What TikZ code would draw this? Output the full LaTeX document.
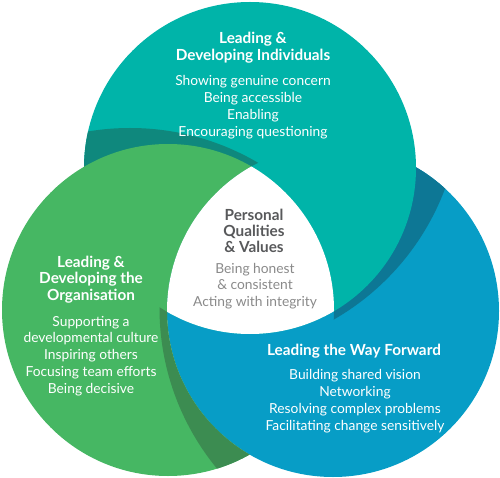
\documentclass[tikz,border=0pt]{standalone}
\usepackage{fontspec}
\setmainfont{Lato}
\definecolor{cteal}{HTML}{00B4A9}
\definecolor{dteal}{HTML}{0F887D}
\definecolor{cgreen}{HTML}{46B763}
\definecolor{dgreen}{HTML}{3C8C51}
\definecolor{cblue}{HTML}{079DC6}
\definecolor{dblue}{HTML}{0D7795}
\definecolor{cgrayd}{HTML}{58595B}
\definecolor{cgrayl}{HTML}{8A8A8A}
\tikzset{
  ttl/.style={font=\bfseries\fontsize{15.3}{17}\selectfont, align=center, inner sep=0pt, anchor=base, text=white},
  txt/.style={font=\fontsize{13.8}{17}\selectfont, align=center, inner sep=0pt, anchor=base, text=white},
}
\begin{document}
\begin{tikzpicture}[x=1pt,y=-1pt]
\useasboundingbox (0,0) rectangle (500,478);
\coordinate (cT) at (250,168);
\coordinate (cG) at (168,310);
\coordinate (cB) at (333,311);
\coordinate (sG) at (130,381);
\coordinate (sT) at (208,100);
\coordinate (sB) at (412.5,308);
\def\R{166}
\def\Rs{253}
% blue circle and its shadow band (cast by teal)
\fill[cblue] (cB) circle[radius=\R];
\begin{scope}
  \clip (cB) circle[radius=\R];
  \clip (-20,-20) -- (520,-20) -- (520,500) -- (-20,500) -- cycle
        (334,310) arc[start angle=0, end angle=-360, radius=\R] -- cycle;
  \fill[dblue] (sT) circle[radius=\Rs];
\end{scope}
% teal circle and its shadow band (cast by green)
\fill[cteal] (cT) circle[radius=\R];
\begin{scope}
  \clip (cT) circle[radius=\R];
  \clip (-20,-20) -- (520,-20) -- (520,500) -- (-20,500) -- cycle
        (499,311) arc[start angle=0, end angle=-360, radius=\R] -- cycle;
  \fill[dteal] (sG) circle[radius=\Rs];
\end{scope}
% green circle (outside blue) and its shadow band (cast by blue)
\begin{scope}
  \clip (-20,-20) -- (520,-20) -- (520,500) -- (-20,500) -- cycle
        (499,311) arc[start angle=0, end angle=-360, radius=\R] -- cycle;
  \fill[cgreen] (cG) circle[radius=\R];
  \clip (cG) circle[radius=\R];
  \clip (-20,-20) -- (520,-20) -- (520,500) -- (-20,500) -- cycle
        (416,168) arc[start angle=0, end angle=-360, radius=\R] -- cycle;
  \fill[dgreen] (sB) circle[radius=\Rs];
\end{scope}
% common centre
\begin{scope}
  \clip (cT) circle[radius=\R];
  \clip (cG) circle[radius=\R];
  \fill[white] (cB) circle[radius=\R];
\end{scope}

\node[ttl] (t1) at (253,61) {Leading \&\\Developing Individuals};
\node[txt] (b1) at (253,137) {Showing genuine concern\\Being accessible\\Enabling\\Encouraging questioning};
\node[ttl,text=cgrayd,font=\bfseries\fontsize{15.3}{16}\selectfont] (t0) at (254,252) {Personal\\Qualities\\\& Values};
\node[txt,text=cgrayl,font=\fontsize{13.8}{16.5}\selectfont] (b0) at (255,306) {Being honest\\\& consistent\\Acting with integrity};
\node[ttl,font=\bfseries\fontsize{15.3}{16.3}\selectfont] (t2) at (91,300) {Leading \&\\Developing the\\Organisation};
\node[txt,font=\fontsize{13.8}{16.75}\selectfont] (b2) at (91,393) {Supporting a\\developmental culture\\Inspiring others\\Focusing team efforts\\Being decisive};
\node[ttl] (t3) at (354,355) {Leading the Way Forward};
\node[txt] (b3) at (355,430) {Building shared vision\\Networking\\Resolving complex problems\\Facilitating change sensitively};
\end{tikzpicture}
\end{document}
